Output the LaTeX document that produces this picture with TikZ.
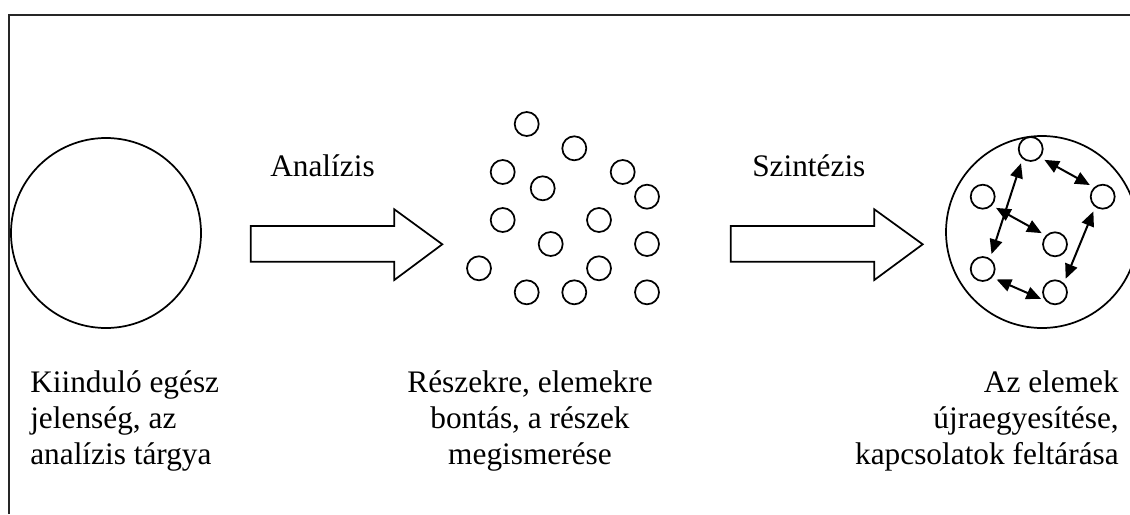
\documentclass[tikz,border=0pt]{standalone}
\usepackage{fontspec}
\setmainfont{Liberation Serif}
\usetikzlibrary{arrows.meta}
\begin{document}
\begin{tikzpicture}[x=0.75pt,y=-0.75pt]
\tikzset{
 smallc/.style={circle,draw,line width=1.3pt,minimum size=18pt,inner sep=0pt},
 bigc/.style={circle,draw,line width=1.3pt,inner sep=0pt},
 link/.style={line width=1.5pt,{Triangle[length=11pt,width=9.5pt]}-{Triangle[length=11pt,width=9.5pt]},shorten <=3.5pt,shorten >=3.5pt},
 blockarrow/.style={draw,line width=1.3pt,fill=white,line join=miter},
 framel/.style={line width=1.3pt,draw=black!85},
 lbl/.style={font=\fontsize{23.5pt}{26.8pt}\selectfont,inner sep=0pt},
}
\useasboundingbox (0,0) rectangle (1130,514);
% frame
\coordinate (f1) at (9,514);
\coordinate (f2) at (9,15);
\coordinate (f3) at (1130,15);
\draw[framel] (f1) -- (f2) -- (f3);
% left big circle
\node[bigc,minimum size=142.5pt] (whole) at (106,233) {};
% block arrows
\draw[blockarrow] (250.7,226) -- (394.3,226) -- (394.3,209.3) -- (442.3,244.3) -- (394.3,280) -- (394.3,261.7) -- (250.7,261.7) -- cycle;
\draw[blockarrow] (730.7,226) -- (874.3,226) -- (874.3,209.3) -- (922.7,244.3) -- (874.3,280) -- (874.3,261.7) -- (730.7,261.7) -- cycle;
% parts
\node[smallc] (c1) at (526.7,124) {};
\node[smallc] (c2) at (574.3,148.3) {};
\node[smallc] (c3) at (502.7,172) {};
\node[smallc] (c4) at (542.7,188.3) {};
\node[smallc] (c5) at (622.7,172) {};
\node[smallc] (c6) at (647,196.7) {};
\node[smallc] (c7) at (502.7,220) {};
\node[smallc] (c8) at (599,220) {};
\node[smallc] (c9) at (550.7,244) {};
\node[smallc] (c10) at (647,244) {};
\node[smallc] (c11) at (479,268.3) {};
\node[smallc] (c12) at (599,268.3) {};
\node[smallc] (c13) at (526.7,292.3) {};
\node[smallc] (c14) at (574.3,292.3) {};
\node[smallc] (c15) at (647,292.3) {};
% synthesis
\node[bigc,minimum size=144pt] (syn) at (1042,232) {};
\node[smallc] (t) at (1030.7,149) {};
\node[smallc] (l) at (982.7,196.7) {};
\node[smallc] (r) at (1102.7,196.7) {};
\node[smallc] (m) at (1055,244.3) {};
\node[smallc] (ll) at (982.7,269) {};
\node[smallc] (lr) at (1055,292.3) {};
\draw[link] (t.230) -- (ll.55);
\draw[link] (l.316) -- (m.136);
\draw[link] (t.318) -- (r.133);
\draw[link] (r.234) -- (lr.46);
\draw[link] (ll.318) -- (lr.221);
% labels
\node[lbl,anchor=base west] (an) at (270,176) {Analízis};
\node[lbl,anchor=base west] (sz) at (752,176) {Szintézis};
\node[lbl,anchor=base west,align=left] (t1) at (30,464) {Kiinduló egész\\jelenség, az\\analízis tárgya};
\node[lbl,anchor=base,align=center] (t2) at (530,464) {Részekre, elemekre\\bontás, a részek\\megismerése};
\node[lbl,anchor=base east,align=right] (t3) at (1119,464) {Az elemek\\újraegyesítése,\\kapcsolatok feltárása};
\end{tikzpicture}
\end{document}
